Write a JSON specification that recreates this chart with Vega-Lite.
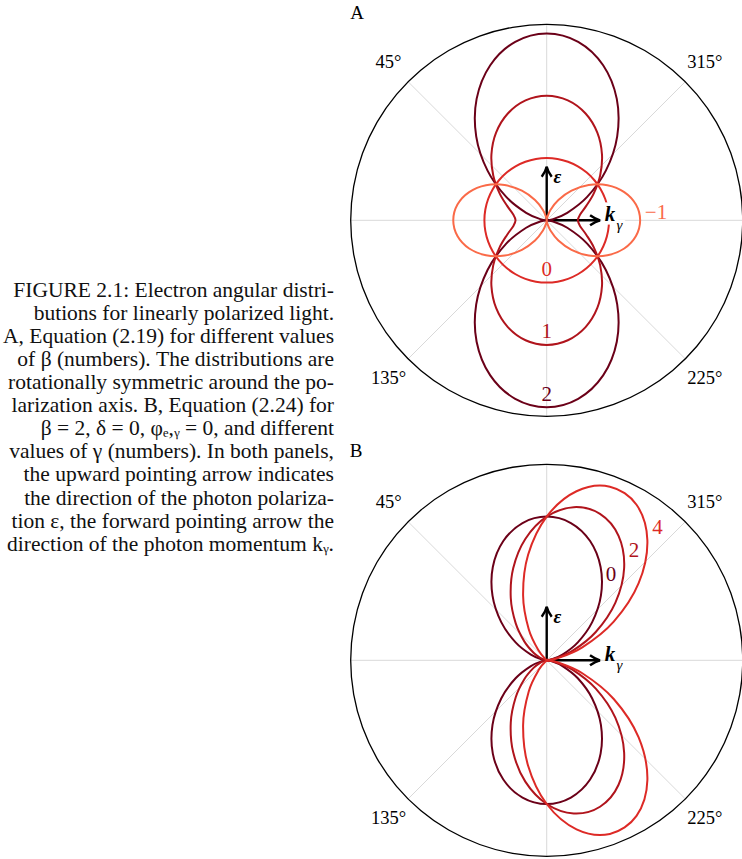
{
  "$schema": "https://vega.github.io/schema/vega-lite/v6.json",
  "padding": 0,
  "background": "white",
  "bounds": "flush",
  "spacing": 12,
  "config": {"view": {"stroke": null}, "font": "Liberation Serif"},
  "datasets": {
    "caption": [
      {"line": 1, "text": "FIGURE 2.1: Electron angular distri-"},
      {"line": 2, "text": "butions for linearly polarized light."},
      {"line": 3, "text": "A, Equation (2.19) for different values"},
      {"line": 4, "text": "of β (numbers). The distributions are"},
      {"line": 5, "text": "rotationally symmetric around the po-"},
      {"line": 6, "text": "larization axis. B, Equation (2.24) for"},
      {"line": 7, "text": "β = 2, δ = 0, φₑ,ᵧ = 0, and different"},
      {"line": 8, "text": "values of γ (numbers). In both panels,"},
      {"line": 9, "text": "the upward pointing arrow indicates"},
      {"line": 10, "text": "the direction of the photon polariza-"},
      {"line": 11, "text": "tion ε, the forward pointing arrow the"},
      {"line": 12, "text": "direction of the photon momentum kᵧ."}
    ],
    "spokesA": [{"t": 0, "r": 3.146}, {"t": 45, "r": 3.146}, {"t": 90, "r": 3.146}, {"t": 135, "r": 3.146}],
    "spokesB": [{"t": 0, "r": 4.092}, {"t": 45, "r": 4.092}, {"t": 90, "r": 4.092}, {"t": 135, "r": 4.092}],
    "curvesA": [
      {"t": 0, "b2": 3, "b1": 2, "b0": 1, "bm1": 0, "ring": 3.146},
      {"t": 10, "b2": 2.9096, "b1": 1.9548, "b0": 1, "bm1": 0.0452, "ring": 3.146},
      {"t": 20, "b2": 2.6491, "b1": 1.8245, "b0": 1, "bm1": 0.1755, "ring": 3.146},
      {"t": 30, "b2": 2.25, "b1": 1.625, "b0": 1, "bm1": 0.375, "ring": 3.146},
      {"t": 40, "b2": 1.7605, "b1": 1.3802, "b0": 1, "bm1": 0.6198, "ring": 3.146},
      {"t": 50, "b2": 1.2395, "b1": 1.1198, "b0": 1, "bm1": 0.8802, "ring": 3.146},
      {"t": 60, "b2": 0.75, "b1": 0.875, "b0": 1, "bm1": 1.125, "ring": 3.146},
      {"t": 70, "b2": 0.3509, "b1": 0.6755, "b0": 1, "bm1": 1.3245, "ring": 3.146},
      {"t": 80, "b2": 0.0905, "b1": 0.5452, "b0": 1, "bm1": 1.4548, "ring": 3.146},
      {"t": 90, "b2": 0, "b1": 0.5, "b0": 1, "bm1": 1.5, "ring": 3.146},
      {"t": 100, "b2": 0.0905, "b1": 0.5452, "b0": 1, "bm1": 1.4548, "ring": 3.146},
      {"t": 110, "b2": 0.3509, "b1": 0.6755, "b0": 1, "bm1": 1.3245, "ring": 3.146},
      {"t": 120, "b2": 0.75, "b1": 0.875, "b0": 1, "bm1": 1.125, "ring": 3.146},
      {"t": 130, "b2": 1.2395, "b1": 1.1198, "b0": 1, "bm1": 0.8802, "ring": 3.146},
      {"t": 140, "b2": 1.7605, "b1": 1.3802, "b0": 1, "bm1": 0.6198, "ring": 3.146},
      {"t": 150, "b2": 2.25, "b1": 1.625, "b0": 1, "bm1": 0.375, "ring": 3.146},
      {"t": 160, "b2": 2.6491, "b1": 1.8245, "b0": 1, "bm1": 0.1755, "ring": 3.146},
      {"t": 170, "b2": 2.9096, "b1": 1.9548, "b0": 1, "bm1": 0.0452, "ring": 3.146},
      {"t": 180, "b2": 3, "b1": 2, "b0": 1, "bm1": 0, "ring": 3.146},
      {"t": 190, "b2": 2.9096, "b1": 1.9548, "b0": 1, "bm1": 0.0452, "ring": 3.146},
      {"t": 200, "b2": 2.6491, "b1": 1.8245, "b0": 1, "bm1": 0.1755, "ring": 3.146},
      {"t": 210, "b2": 2.25, "b1": 1.625, "b0": 1, "bm1": 0.375, "ring": 3.146},
      {"t": 220, "b2": 1.7605, "b1": 1.3802, "b0": 1, "bm1": 0.6198, "ring": 3.146},
      {"t": 230, "b2": 1.2395, "b1": 1.1198, "b0": 1, "bm1": 0.8802, "ring": 3.146},
      {"t": 240, "b2": 0.75, "b1": 0.875, "b0": 1, "bm1": 1.125, "ring": 3.146},
      {"t": 250, "b2": 0.3509, "b1": 0.6755, "b0": 1, "bm1": 1.3245, "ring": 3.146},
      {"t": 260, "b2": 0.0905, "b1": 0.5452, "b0": 1, "bm1": 1.4548, "ring": 3.146},
      {"t": 270, "b2": 0, "b1": 0.5, "b0": 1, "bm1": 1.5, "ring": 3.146},
      {"t": 280, "b2": 0.0905, "b1": 0.5452, "b0": 1, "bm1": 1.4548, "ring": 3.146},
      {"t": 290, "b2": 0.3509, "b1": 0.6755, "b0": 1, "bm1": 1.3245, "ring": 3.146},
      {"t": 300, "b2": 0.75, "b1": 0.875, "b0": 1, "bm1": 1.125, "ring": 3.146},
      {"t": 310, "b2": 1.2395, "b1": 1.1198, "b0": 1, "bm1": 0.8802, "ring": 3.146},
      {"t": 320, "b2": 1.7605, "b1": 1.3802, "b0": 1, "bm1": 0.6198, "ring": 3.146},
      {"t": 330, "b2": 2.25, "b1": 1.625, "b0": 1, "bm1": 0.375, "ring": 3.146},
      {"t": 340, "b2": 2.6491, "b1": 1.8245, "b0": 1, "bm1": 0.1755, "ring": 3.146},
      {"t": 350, "b2": 2.9096, "b1": 1.9548, "b0": 1, "bm1": 0.0452, "ring": 3.146}
    ],
    "curvesB": [
      {"t": 0, "g0": 3, "g2": 3, "g4": 3, "ring": 4.092},
      {"t": 10, "g0": 2.9096, "g2": 3.2464, "g4": 3.5832, "ring": 4.092},
      {"t": 20, "g0": 2.6491, "g2": 3.2531, "g4": 3.8571, "ring": 4.092},
      {"t": 30, "g0": 2.25, "g2": 3, "g4": 3.75, "ring": 4.092},
      {"t": 40, "g0": 1.7605, "g2": 2.5149, "g4": 3.2693, "ring": 4.092},
      {"t": 50, "g0": 1.2395, "g2": 1.8726, "g4": 2.5056, "ring": 4.092},
      {"t": 60, "g0": 0.75, "g2": 1.183, "g4": 1.616, "ring": 4.092},
      {"t": 70, "g0": 0.3509, "g2": 0.5708, "g4": 0.7906, "ring": 4.092},
      {"t": 80, "g0": 0.0905, "g2": 0.1499, "g4": 0.2092, "ring": 4.092},
      {"t": 90, "g0": 0, "g2": 0, "g4": 0, "ring": 4.092},
      {"t": 100, "g0": 0.0905, "g2": 0.1499, "g4": 0.2092, "ring": 4.092},
      {"t": 110, "g0": 0.3509, "g2": 0.5708, "g4": 0.7906, "ring": 4.092},
      {"t": 120, "g0": 0.75, "g2": 1.183, "g4": 1.616, "ring": 4.092},
      {"t": 130, "g0": 1.2395, "g2": 1.8726, "g4": 2.5056, "ring": 4.092},
      {"t": 140, "g0": 1.7605, "g2": 2.5149, "g4": 3.2693, "ring": 4.092},
      {"t": 150, "g0": 2.25, "g2": 3, "g4": 3.75, "ring": 4.092},
      {"t": 160, "g0": 2.6491, "g2": 3.2531, "g4": 3.8571, "ring": 4.092},
      {"t": 170, "g0": 2.9096, "g2": 3.2464, "g4": 3.5832, "ring": 4.092},
      {"t": 180, "g0": 3, "g2": 3, "g4": 3, "ring": 4.092},
      {"t": 190, "g0": 2.9096, "g2": 2.5727, "g4": 2.2359, "ring": 4.092},
      {"t": 200, "g0": 2.6491, "g2": 2.045, "g4": 1.441, "ring": 4.092},
      {"t": 210, "g0": 2.25, "g2": 1.5, "g4": 0.75, "ring": 4.092},
      {"t": 220, "g0": 1.7605, "g2": 1.0061, "g4": 0.2517, "ring": 4.092},
      {"t": 230, "g0": 1.2395, "g2": 0.6065, "g4": 0, "ring": 4.092},
      {"t": 240, "g0": 0.75, "g2": 0.317, "g4": 0, "ring": 4.092},
      {"t": 250, "g0": 0.3509, "g2": 0.1311, "g4": 0, "ring": 4.092},
      {"t": 260, "g0": 0.0905, "g2": 0.0311, "g4": 0, "ring": 4.092},
      {"t": 270, "g0": 0, "g2": 0, "g4": 0, "ring": 4.092},
      {"t": 280, "g0": 0.0905, "g2": 0.0311, "g4": 0, "ring": 4.092},
      {"t": 290, "g0": 0.3509, "g2": 0.1311, "g4": 0, "ring": 4.092},
      {"t": 300, "g0": 0.75, "g2": 0.317, "g4": 0, "ring": 4.092},
      {"t": 310, "g0": 1.2395, "g2": 0.6065, "g4": 0, "ring": 4.092},
      {"t": 320, "g0": 1.7605, "g2": 1.0061, "g4": 0.2517, "ring": 4.092},
      {"t": 330, "g0": 2.25, "g2": 1.5, "g4": 0.75, "ring": 4.092},
      {"t": 340, "g0": 2.6491, "g2": 2.045, "g4": 1.441, "ring": 4.092},
      {"t": 350, "g0": 2.9096, "g2": 2.5727, "g4": 2.2359, "ring": 4.092}
    ],
    "arrowsA": [{"dir": "up", "x": 0, "y": 0.86}, {"dir": "right", "x": 0.857, "y": 0}],
    "arrowsB": [{"dir": "up", "x": 0, "y": 1.117}, {"dir": "right", "x": 1.113, "y": 0}],
    "textA": [
      {"kind": "panel", "text": "A", "x": -3.045, "y": 3.335},
      {"kind": "deg", "text": "45°", "x": -2.54, "y": 2.54},
      {"kind": "deg", "text": "315°", "x": 2.54, "y": 2.54},
      {"kind": "deg", "text": "135°", "x": -2.54, "y": -2.53},
      {"kind": "deg", "text": "225°", "x": 2.54, "y": -2.53},
      {"kind": "eps", "text": "ε", "x": 0.173, "y": 0.695},
      {"kind": "k", "text": "k", "x": 1.016, "y": 0.085},
      {"kind": "sub", "text": "γ", "x": 1.169, "y": -0.076}
    ],
    "textB": [
      {"kind": "panel", "text": "B", "x": -3.98, "y": 4.36},
      {"kind": "deg", "text": "45°", "x": -3.3, "y": 3.3},
      {"kind": "deg", "text": "315°", "x": 3.3, "y": 3.3},
      {"kind": "deg", "text": "135°", "x": -3.3, "y": -3.29},
      {"kind": "deg", "text": "225°", "x": 3.3, "y": -3.29},
      {"kind": "eps", "text": "ε", "x": 0.225, "y": 0.904},
      {"kind": "k", "text": "k", "x": 1.322, "y": 0.111},
      {"kind": "sub", "text": "γ", "x": 1.519, "y": -0.098}
    ],
    "labelsA": [
      {"series": "bm1", "text": "−1", "x": 1.755, "y": 0.11},
      {"series": "b0", "text": "0", "x": 0, "y": -0.79},
      {"series": "b1", "text": "1", "x": 0, "y": -1.8},
      {"series": "b2", "text": "2", "x": 0, "y": -2.8}
    ],
    "labelsB": [
      {"series": "g0", "text": "0", "x": 1.342, "y": 1.781},
      {"series": "g2", "text": "2", "x": 1.823, "y": 2.292},
      {"series": "g4", "text": "4", "x": 2.313, "y": 2.752}
    ]
  },
  "hconcat": [
    {
      "width": 334,
      "height": 859,
      "data": {"name": "caption"},
      "mark": {"type": "text", "align": "right", "baseline": "alphabetic", "fontSize": 21.5, "font": "Liberation Serif", "color": "#111111"},
      "encoding": {
        "x": {"value": "width"},
        "y": {"field": "line", "type": "quantitative", "axis": null, "scale": {"domain": [-11.844, 25.342], "reverse": true, "zero": false, "nice": false}},
        "text": {"field": "text"}
      }
    },
    {
      "vconcat": [
        {
          "width": 396,
          "height": 440,
          "encoding": {
            "x": {"field": "x", "type": "quantitative", "axis": null, "scale": {"domain": [-3.2215, 3.1348], "zero": false, "nice": false}},
            "y": {"field": "y", "type": "quantitative", "axis": null, "scale": {"domain": [-3.5265, 3.5361], "zero": false, "nice": false}}
          },
          "layer": [
            {
              "data": {"name": "spokesA"},
              "transform": [
                {"calculate": "datum.r * sin(datum.t * PI / 180)", "as": "x"},
                {"calculate": "datum.r * cos(datum.t * PI / 180)", "as": "y"},
                {"calculate": "-datum.x", "as": "xa"},
                {"calculate": "-datum.y", "as": "ya"}
              ],
              "mark": {"type": "rule", "color": "#d9d9d9", "strokeWidth": 1},
              "encoding": {"x2": {"field": "xa"}, "y2": {"field": "ya"}}
            },
            {
              "data": {"name": "curvesA"},
              "transform": [
                {"fold": ["ring"], "as": ["series", "r"]},
                {"calculate": "datum.r * sin(datum.t * PI / 180)", "as": "x"},
                {"calculate": "datum.r * cos(datum.t * PI / 180)", "as": "y"}
              ],
              "mark": {"type": "line", "color": "black", "strokeWidth": 1.3, "interpolate": "cardinal-closed", "tension": 0},
              "encoding": {"order": {"field": "t", "type": "quantitative"}}
            },
            {
              "data": {"name": "arrowsA"},
              "mark": {"type": "rule", "color": "black", "strokeWidth": 2.4},
              "encoding": {"x2": {"datum": 0}, "y2": {"datum": 0}}
            },
            {
              "data": {"name": "arrowsA"},
              "transform": [{"filter": "datum.dir == 'up'"}],
              "mark": {"type": "point", "shape": "M-0.5,1Q-0.1,0.45,0,0Q0.1,0.45,0.5,1", "filled": false, "color": "black", "strokeWidth": 2.4, "size": 400, "opacity": 1}
            },
            {
              "data": {"name": "arrowsA"},
              "transform": [{"filter": "datum.dir == 'right'"}],
              "mark": {"type": "point", "shape": "M-1,-0.5Q-0.45,-0.1,0,0Q-0.45,0.1,-1,0.5", "filled": false, "color": "black", "strokeWidth": 2.4, "size": 400, "opacity": 1}
            },
            {
              "data": {"name": "curvesA"},
              "transform": [
                {"fold": ["b2", "b1", "b0", "bm1"], "as": ["series", "r"]},
                {"calculate": "datum.r * sin(datum.t * PI / 180)", "as": "x"},
                {"calculate": "datum.r * cos(datum.t * PI / 180)", "as": "y"}
              ],
              "mark": {"type": "line", "strokeWidth": 2, "interpolate": "cardinal-closed", "tension": 0},
              "encoding": {
                "color": {"field": "series", "type": "nominal", "legend": null, "scale": {"domain": ["b2", "b1", "b0", "bm1"], "range": ["#6b0018", "#b0141c", "#dd2a26", "#fa6a48"]}},
                "order": {"field": "t", "type": "quantitative"}
              }
            },
            {
              "data": {"name": "labelsA"},
              "mark": {"type": "text", "fontSize": 21, "font": "Liberation Serif", "align": "center", "baseline": "middle"},
              "encoding": {
                "text": {"field": "text"},
                "color": {"field": "series", "type": "nominal", "legend": null, "scale": {"domain": ["b2", "b1", "b0", "bm1"], "range": ["#6b0018", "#b0141c", "#dd2a26", "#fa6a48"]}}
              }
            },
            {
              "data": {"name": "textA"},
              "transform": [{"filter": "datum.kind == 'panel'"}],
              "mark": {"type": "text", "fontSize": 19, "font": "Liberation Serif", "align": "center", "baseline": "middle", "color": "black"},
              "encoding": {"text": {"field": "text"}}
            },
            {
              "data": {"name": "textA"},
              "transform": [{"filter": "datum.kind == 'deg'"}],
              "mark": {"type": "text", "fontSize": 18.5, "font": "Liberation Serif", "align": "center", "baseline": "middle", "color": "black"},
              "encoding": {"text": {"field": "text"}}
            },
            {
              "data": {"name": "textA"},
              "transform": [{"filter": "datum.kind == 'eps'"}],
              "mark": {"type": "text", "fontSize": 19, "font": "Liberation Serif", "fontStyle": "italic", "fontWeight": "bold", "align": "center", "baseline": "middle", "color": "black"},
              "encoding": {"text": {"field": "text"}}
            },
            {
              "data": {"name": "textA"},
              "transform": [{"filter": "datum.kind == 'k'"}],
              "mark": {"type": "text", "fontSize": 21, "font": "Liberation Serif", "fontStyle": "italic", "fontWeight": "bold", "align": "center", "baseline": "middle", "color": "white", "stroke": "white", "strokeWidth": 7},
              "encoding": {"text": {"field": "text"}}
            },
            {
              "data": {"name": "textA"},
              "transform": [{"filter": "datum.kind == 'sub'"}],
              "mark": {"type": "text", "fontSize": 15, "font": "Liberation Serif", "fontStyle": "italic", "align": "center", "baseline": "middle", "color": "white", "stroke": "white", "strokeWidth": 6},
              "encoding": {"text": {"field": "text"}}
            },
            {
              "data": {"name": "textA"},
              "transform": [{"filter": "datum.kind == 'k'"}],
              "mark": {"type": "text", "fontSize": 21, "font": "Liberation Serif", "fontStyle": "italic", "fontWeight": "bold", "align": "center", "baseline": "middle", "color": "black"},
              "encoding": {"text": {"field": "text"}}
            },
            {
              "data": {"name": "textA"},
              "transform": [{"filter": "datum.kind == 'sub'"}],
              "mark": {"type": "text", "fontSize": 15, "font": "Liberation Serif", "fontStyle": "italic", "align": "center", "baseline": "middle", "color": "black"},
              "encoding": {"text": {"field": "text"}}
            }
          ]
        },
        {
          "width": 396,
          "height": 419,
          "encoding": {
            "x": {"field": "x", "type": "quantitative", "axis": null, "scale": {"domain": [-4.19, 4.077], "zero": false, "nice": false}},
            "y": {"field": "y", "type": "quantitative", "axis": null, "scale": {"domain": [-4.148, 4.599], "zero": false, "nice": false}}
          },
          "layer": [
            {
              "data": {"name": "spokesB"},
              "transform": [
                {"calculate": "datum.r * sin(datum.t * PI / 180)", "as": "x"},
                {"calculate": "datum.r * cos(datum.t * PI / 180)", "as": "y"},
                {"calculate": "-datum.x", "as": "xa"},
                {"calculate": "-datum.y", "as": "ya"}
              ],
              "mark": {"type": "rule", "color": "#d9d9d9", "strokeWidth": 1},
              "encoding": {"x2": {"field": "xa"}, "y2": {"field": "ya"}}
            },
            {
              "data": {"name": "curvesB"},
              "transform": [
                {"fold": ["ring"], "as": ["series", "r"]},
                {"calculate": "datum.r * sin(datum.t * PI / 180)", "as": "x"},
                {"calculate": "datum.r * cos(datum.t * PI / 180)", "as": "y"}
              ],
              "mark": {"type": "line", "color": "black", "strokeWidth": 1.3, "interpolate": "cardinal-closed", "tension": 0},
              "encoding": {"order": {"field": "t", "type": "quantitative"}}
            },
            {
              "data": {"name": "arrowsB"},
              "mark": {"type": "rule", "color": "black", "strokeWidth": 2.4},
              "encoding": {"x2": {"datum": 0}, "y2": {"datum": 0}}
            },
            {
              "data": {"name": "arrowsB"},
              "transform": [{"filter": "datum.dir == 'up'"}],
              "mark": {"type": "point", "shape": "M-0.5,1Q-0.1,0.45,0,0Q0.1,0.45,0.5,1", "filled": false, "color": "black", "strokeWidth": 2.4, "size": 400, "opacity": 1}
            },
            {
              "data": {"name": "arrowsB"},
              "transform": [{"filter": "datum.dir == 'right'"}],
              "mark": {"type": "point", "shape": "M-1,-0.5Q-0.45,-0.1,0,0Q-0.45,0.1,-1,0.5", "filled": false, "color": "black", "strokeWidth": 2.4, "size": 400, "opacity": 1}
            },
            {
              "data": {"name": "curvesB"},
              "transform": [
                {"fold": ["g0", "g2", "g4"], "as": ["series", "r"]},
                {"calculate": "datum.r * sin(datum.t * PI / 180)", "as": "x"},
                {"calculate": "datum.r * cos(datum.t * PI / 180)", "as": "y"}
              ],
              "mark": {"type": "line", "strokeWidth": 2, "interpolate": "cardinal-closed", "tension": 0},
              "encoding": {
                "color": {"field": "series", "type": "nominal", "legend": null, "scale": {"domain": ["g0", "g2", "g4"], "range": ["#6b0018", "#b0141c", "#e0282a"]}},
                "order": {"field": "t", "type": "quantitative"}
              }
            },
            {
              "data": {"name": "labelsB"},
              "mark": {"type": "text", "fontSize": 21, "font": "Liberation Serif", "align": "center", "baseline": "middle"},
              "encoding": {
                "text": {"field": "text"},
                "color": {"field": "series", "type": "nominal", "legend": null, "scale": {"domain": ["g0", "g2", "g4"], "range": ["#6b0018", "#b0141c", "#e0282a"]}}
              }
            },
            {
              "data": {"name": "textB"},
              "transform": [{"filter": "datum.kind == 'panel'"}],
              "mark": {"type": "text", "fontSize": 19, "font": "Liberation Serif", "align": "center", "baseline": "middle", "color": "black"},
              "encoding": {"text": {"field": "text"}}
            },
            {
              "data": {"name": "textB"},
              "transform": [{"filter": "datum.kind == 'deg'"}],
              "mark": {"type": "text", "fontSize": 18.5, "font": "Liberation Serif", "align": "center", "baseline": "middle", "color": "black"},
              "encoding": {"text": {"field": "text"}}
            },
            {
              "data": {"name": "textB"},
              "transform": [{"filter": "datum.kind == 'eps'"}],
              "mark": {"type": "text", "fontSize": 19, "font": "Liberation Serif", "fontStyle": "italic", "fontWeight": "bold", "align": "center", "baseline": "middle", "color": "black"},
              "encoding": {"text": {"field": "text"}}
            },
            {
              "data": {"name": "textB"},
              "transform": [{"filter": "datum.kind == 'k'"}],
              "mark": {"type": "text", "fontSize": 21, "font": "Liberation Serif", "fontStyle": "italic", "fontWeight": "bold", "align": "center", "baseline": "middle", "color": "black"},
              "encoding": {"text": {"field": "text"}}
            },
            {
              "data": {"name": "textB"},
              "transform": [{"filter": "datum.kind == 'sub'"}],
              "mark": {"type": "text", "fontSize": 15, "font": "Liberation Serif", "fontStyle": "italic", "align": "center", "baseline": "middle", "color": "black"},
              "encoding": {"text": {"field": "text"}}
            }
          ]
        }
      ],
      "spacing": 0,
      "bounds": "flush"
    }
  ]
}
